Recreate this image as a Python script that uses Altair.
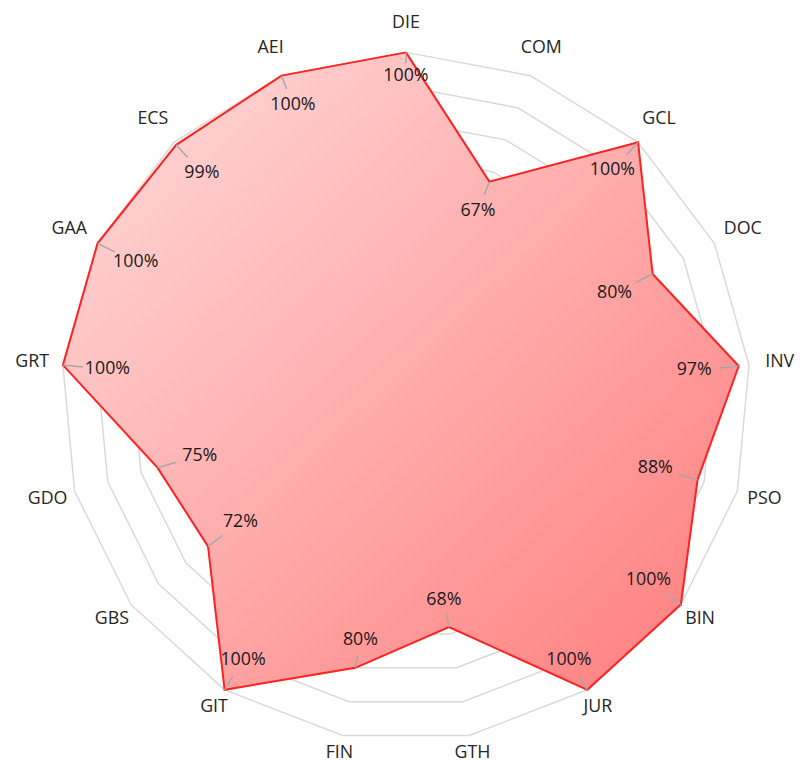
import math
import altair as alt
import pandas as pd

categories = ["DIE", "COM", "GCL", "DOC", "INV", "PSO", "BIN", "JUR", "GTH",
              "FIN", "GIT", "GBS", "GDO", "GRT", "GAA", "ECS", "AEI"]
values = [1.00, 0.67, 1.00, 0.80, 0.97, 0.88, 1.00, 1.00, 0.68,
          0.80, 1.00, 0.72, 0.75, 1.00, 1.00, 0.99, 1.00]
ring_levels = [0.1, 0.2, 0.3, 0.4, 0.5, 0.6, 0.7, 0.8, 0.9, 1.0]

n = len(categories)
ang = [2 * math.pi * i / n for i in range(n)]

# series polygon (closed)
poly_rows = []
for k in range(n + 1):
    i = k % n
    poly_rows.append({"idx": k, "cat": categories[i], "v": values[i],
                      "x": values[i] * math.sin(ang[i]), "y": values[i] * math.cos(ang[i])})
poly = pd.DataFrame(poly_rows)

# grid rings
ring_rows = []
for lv in ring_levels:
    for k in range(n + 1):
        i = k % n
        ring_rows.append({"ring": lv, "idx": k,
                          "x": lv * math.sin(ang[i]), "y": lv * math.cos(ang[i])})
rings = pd.DataFrame(ring_rows)

# data labels and leader lines
lab_rows = []
for i in range(n):
    s, c = math.sin(ang[i]), math.cos(ang[i])
    r = values[i] - (0.07 + 0.06 * abs(s))
    lx, ly = r * s, r * c
    vx, vy = values[i] * s, values[i] * c
    lab_rows.append({"cat": categories[i], "text": f"{round(values[i]*100)}%",
                     "x": lx, "y": ly, "vx": vx, "vy": vy,
                     "ex": vx + 0.45 * (lx - vx), "ey": vy + 0.45 * (ly - vy)})
labs = pd.DataFrame(lab_rows)

# category labels
cat_rows = []
for i in range(n):
    s, c = math.sin(ang[i]), math.cos(ang[i])
    r = 1.068 + 0.018 * c + 0.02 * s * s
    cat_rows.append({"cat": categories[i], "x": r * s, "y": r * c})
cats = pd.DataFrame(cat_rows)

X = alt.X("x:Q", scale=alt.Scale(domain=[-1, 1]), axis=None)
Y = alt.Y("y:Q", scale=alt.Scale(domain=[-1, 1]), axis=None)
FONT = "Open Sans"

ring_layer = alt.Chart(rings).mark_line(color="#d9d9d9", strokeWidth=1.5).encode(
    x=X, y=Y, detail="ring:N", order="idx:Q")

grad = alt.Gradient(gradient="linear", x1=0, y1=0, x2=1, y2=1,
                    stops=[alt.GradientStop(color="#ffdddd", offset=0),
                           alt.GradientStop(color="#ff7c7c", offset=1)])

poly_layer = alt.Chart(poly).mark_line(fill=grad, stroke="#ff2020", strokeWidth=2,
                                       strokeJoin="miter").encode(
    x=X, y=Y, order="idx:Q")

leader_layer = alt.Chart(labs).mark_rule(color="#a6a6a6", strokeWidth=1.5).encode(
    x=alt.X("vx:Q", scale=alt.Scale(domain=[-1, 1]), axis=None),
    y=alt.Y("vy:Q", scale=alt.Scale(domain=[-1, 1]), axis=None),
    x2="ex:Q", y2="ey:Q")

label_layer = alt.Chart(labs).mark_text(font=FONT, fontSize=18, color="#1a1a1a",
                                        align="center", baseline="middle").encode(
    x=X, y=Y, text="text:N")

cat_layer = alt.Chart(cats).mark_text(font=FONT, fontSize=18, color="#262626",
                                      align="center", baseline="middle").encode(
    x=X, y=Y, text="cat:N")

chart = alt.layer(ring_layer, poly_layer, leader_layer, label_layer, cat_layer).properties(
    width=696, height=696,
    autosize="none",
    padding={"left": 54, "top": 41, "right": 46, "bottom": 18},
    background="white",
).configure_view(stroke=None)

chart.save("out.html", embed_options={"renderer": "svg", "actions": False})
